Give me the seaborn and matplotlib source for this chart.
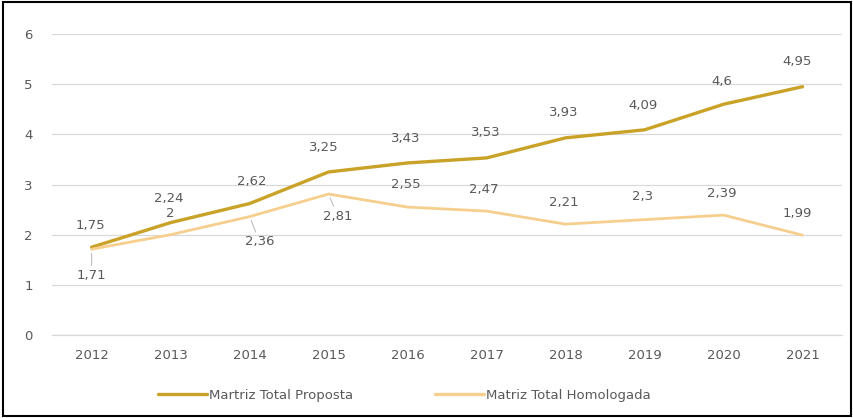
import pandas as pd
import seaborn as sns
import matplotlib
matplotlib.use('Agg')
import matplotlib.pyplot as plt
from matplotlib.patches import Rectangle

anos = ['2012', '2013', '2014', '2015', '2016', '2017', '2018', '2019', '2020', '2021']
proposta = [1.75, 2.24, 2.62, 3.25, 3.43, 3.53, 3.93, 4.09, 4.6, 4.95]
homologada = [1.71, 2, 2.36, 2.81, 2.55, 2.47, 2.21, 2.3, 2.39, 1.99]
series = ['Martriz Total Proposta', 'Matriz Total Homologada']
cores = ['#C9A227', '#F6CF8E']

df = pd.DataFrame({
    'valor': proposta + homologada,
    'serie': [series[0]] * len(anos) + [series[1]] * len(anos),
})
df['x'] = list(range(len(anos))) * 2

sns.set_style('white')
plt.rcParams['font.family'] = ['DejaVu Sans']
cinza = '#595959'

fig = plt.figure(figsize=(8.54, 4.18), dpi=100)
ax = fig.add_axes([0.061, 0.1986, 0.925, 0.720])

sns.lineplot(data=df, x='x', y='valor', hue='serie', palette=cores,
             linewidth=2.4, ax=ax, legend=True, sort=False)
ax.lines[1].set_linewidth(2.0)

ax.set_xlim(-0.5, 9.5)
ax.set_ylim(0, 6)
ax.set_xticks(range(len(anos)))
ax.set_xticklabels(anos)
ax.set_xticks([i - 0.5 for i in range(len(anos) + 1)], minor=True)
ax.set_yticks(range(0, 7))
ax.yaxis.grid(True, color='#D9D9D9', linewidth=0.9)
ax.set_axisbelow(True)
for s in ax.spines.values():
    s.set_visible(False)
ax.spines['bottom'].set_visible(True)
ax.spines['bottom'].set_color('#D9D9D9')
ax.spines['bottom'].set_linewidth(0.9)
ax.tick_params(axis='both', which='major', length=0, labelsize=9.5, colors=cinza)
ax.tick_params(axis='x', which='major', pad=10)
ax.tick_params(axis='y', which='major', pad=14)
ax.tick_params(axis='x', which='minor', length=3, color='#D9D9D9', width=0.9)
ax.set_xlabel('')
ax.set_ylabel('')

def fmt(v):
    return ('%g' % v).replace('.', ',')

# deslocamento dos rotulos (pixels)
off_p = [(-1, 22), (-2, 24), (2, 22), (-5, 24), (-2, 24), (-1, 25), (-2, 25), (-2, 24), (-2, 23), (-5, 25)]
off_h = [(0, -26), (0, 21), (10, -25), (9, -22), (-2, 23), (-3, 22), (-2, 22), (-2, 23), (-2, 22), (-5, 22)]
com_linha = [0, 2, 3]

for i, v in enumerate(proposta):
    ax.annotate(fmt(v), (i, v), xytext=(off_p[i][0] * 0.72, off_p[i][1] * 0.72),
                textcoords='offset points', ha='center', va='center',
                fontsize=9.5, color=cinza)
for i, v in enumerate(homologada):
    dx, dy = off_h[i]
    arrow = None
    if i in com_linha:
        arrow = dict(arrowstyle='-', color='#BFBFBF', lw=0.8, shrinkA=0, shrinkB=3)
    ax.annotate(fmt(v), (i, v), xytext=(dx * 0.72, dy * 0.72),
                textcoords='offset points', ha='center', va='center',
                fontsize=9.5, color=cinza, arrowprops=arrow)

leg = ax.legend(loc='center', bbox_to_anchor=(0.446, -0.2), ncol=2, frameon=False,
                fontsize=9.5, handlelength=3.7, columnspacing=6.2, handletextpad=0.15)
for t in leg.get_texts():
    t.set_color(cinza)

fig.patches.append(Rectangle((0.003, 0.005), 0.994, 0.99, transform=fig.transFigure,
                             fill=False, edgecolor='black', linewidth=1.5))

fig.savefig('out.png', dpi=100)
